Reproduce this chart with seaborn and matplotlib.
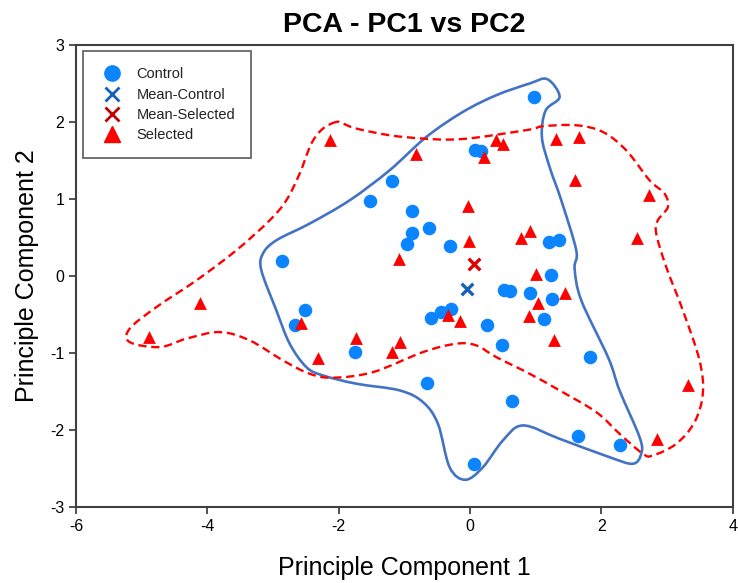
import numpy as np
import pandas as pd
import matplotlib
matplotlib.use("Agg")
import matplotlib.pyplot as plt
from matplotlib.path import Path
from matplotlib.patches import PathPatch
from matplotlib.lines import Line2D
import seaborn as sns

# PCA scores: control group
control_pc1 = [0.98, 0.08, 0.16, -1.19, -1.53, -0.88, -0.63, -0.88, -0.96, -0.31,
               1.20, 1.35, -2.86, 1.23, 0.52, 0.60, 0.91, 1.24, -2.51, -2.67,
               -0.59, -0.44, -0.29, 0.25, 1.12, 0.48, -1.75, 1.83, -0.66, 0.64,
               0.06, 1.65, 2.28]
control_pc2 = [2.32, 1.64, 1.62, 1.24, 0.97, 0.85, 0.62, 0.56, 0.41, 0.39,
               0.44, 0.47, 0.19, 0.02, -0.18, -0.19, -0.22, -0.30, -0.44, -0.64,
               -0.54, -0.47, -0.43, -0.63, -0.56, -0.90, -0.99, -1.05, -1.39, -1.62,
               -2.44, -2.07, -2.19]

# PCA scores: selected group
selected_pc1 = [-2.13, -0.82, 0.21, 0.39, 0.50, 1.31, 1.66, 1.59, 2.73, -0.03,
                -0.02, 0.91, 0.77, 2.54, -1.09, 1.01, 1.44, 1.04, -4.11, -0.34,
                -0.16, 0.89, -2.58, -4.89, -1.74, -1.07, 1.28, -1.19, -2.32, 3.32,
                2.85]
selected_pc2 = [1.77, 1.58, 1.55, 1.76, 1.71, 1.78, 1.80, 1.25, 1.05, 0.91,
                0.45, 0.59, 0.49, 0.49, 0.22, 0.03, -0.22, -0.35, -0.35, -0.51,
                -0.58, -0.52, -0.61, -0.79, -0.80, -0.86, -0.83, -0.99, -1.07, -1.41,
                -2.12]

# group means
mean_control = (-0.04, -0.17)
mean_selected = (0.06, 0.16)

# group envelopes (closed outlines in PC space)
control_env_pc1 = [1.175, 1.362, 1.149, 1.093, 1.210, 1.388, 1.616, 1.591, 1.693, 2.108,
                   2.275, 2.580, 2.606, 2.478, 2.123, 1.362, 0.804, 0.499, 0.195, -0.073,
                   -0.312, -0.490, -0.718, -1.073, -1.732, -2.240, -2.493, -2.747, -2.950,
                   -3.178, -3.154, -2.950, -2.443, -1.834, -1.225, -0.667, -0.110, 0.399,
                   0.906]
control_env_pc2 = [2.555, 2.325, 2.147, 1.805, 1.416, 0.983, 0.334, 0.096, -0.316, -1.069,
                   -1.484, -2.091, -2.303, -2.436, -2.351, -2.112, -1.939, -2.134, -2.481,
                   -2.644, -2.481, -1.917, -1.636, -1.484, -1.397, -1.290, -1.182, -0.878,
                   -0.445, 0.074, 0.291, 0.464, 0.681, 0.983, 1.373, 1.805, 2.130, 2.347,
                   2.499]

selected_env_pc1 = [-2.037, -2.240, -2.417, -2.595, -2.798, -3.052, -3.559, -4.167, -4.776,
                    -5.183, -5.183, -4.726, -4.320, -3.813, -3.356, -2.849, -2.443, -2.088,
                    -1.479, -0.718, -0.210, 0.094, 0.399, 0.906, 1.362, 1.921, 2.275, 2.630,
                    2.782, 3.139, 3.417, 3.543, 3.493, 3.239, 2.986, 2.834, 2.858, 3.011,
                    2.960, 2.732, 2.377, 2.021, 1.616, 1.108, 0.906, 0.094, -0.312, -0.718,
                    -1.225, -1.732, -1.936]
selected_env_pc2 = [2.000, 1.914, 1.719, 1.330, 0.983, 0.723, 0.334, -0.056, -0.403,
                    -0.683, -0.857, -0.922, -0.813, -0.727, -0.835, -1.095, -1.268, -1.319,
                    -1.247, -0.987, -0.878, -0.900, -1.052, -1.268, -1.484, -1.766, -2.047,
                    -2.306, -2.329, -2.177, -1.896, -1.527, -1.095, -0.445, 0.117, 0.551,
                    0.723, 0.896, 1.070, 1.243, 1.632, 1.870, 1.957, 1.944, 1.901, 1.797,
                    1.771, 1.784, 1.827, 1.914, 1.979]


def smooth_closed_path(xs, ys):
    """Closed Catmull-Rom curve through the given points, as cubic Bezier path."""
    p = np.column_stack([xs, ys]).astype(float)
    n = len(p)
    verts = [p[0]]
    codes = [Path.MOVETO]
    for i in range(n):
        p0, p1, p2, p3 = p[i - 1], p[i], p[(i + 1) % n], p[(i + 2) % n]
        c1 = p1 + (p2 - p0) / 6.0
        c2 = p2 - (p3 - p1) / 6.0
        verts += [c1, c2, p2]
        codes += [Path.CURVE4] * 3
    return Path(verts, codes)


sns.set_theme(style="white")
plt.rcParams["font.family"] = ["Liberation Sans", "DejaVu Sans"]
plt.rcParams["axes.unicode_minus"] = False
plt.rcParams["text.color"] = "black"
plt.rcParams["axes.labelcolor"] = "black"

fig = plt.figure(figsize=(7.38, 5.83), dpi=100)
ax = fig.add_axes([0.103, 0.130, 0.890, 0.793])

blue_pt = "#0A84FF"
red_pt = "#FF0000"

ax.add_patch(PathPatch(smooth_closed_path(control_env_pc1, control_env_pc2),
                       facecolor="none", edgecolor="#4472C4", lw=1.9, zorder=2))
ax.add_patch(PathPatch(smooth_closed_path(selected_env_pc1, selected_env_pc2),
                       facecolor="none", edgecolor="#FF0000", lw=1.7,
                       linestyle=(0, (3.5, 2.0)), zorder=2))

ctrl = pd.DataFrame({"PC1": control_pc1, "PC2": control_pc2})
sel = pd.DataFrame({"PC1": selected_pc1, "PC2": selected_pc2})

sns.scatterplot(data=ctrl, x="PC1", y="PC2", ax=ax, color=blue_pt, marker="o",
                s=95, linewidth=0, zorder=3, legend=False)
sns.scatterplot(data=sel, x="PC1", y="PC2", ax=ax, color=red_pt, marker="^",
                s=85, linewidth=0, zorder=3, legend=False)
ax.scatter([mean_control[0]], [mean_control[1]], marker="x", s=70, color="#1560BD",
           linewidths=2.4, zorder=4)
ax.scatter([mean_selected[0]], [mean_selected[1]], marker="x", s=70, color="#E00000",
           linewidths=2.4, zorder=4)

ax.set_xlim(-6, 4)
ax.set_ylim(-3, 3)
ax.set_xticks([-6, -4, -2, 0, 2, 4])
ax.set_yticks([-3, -2, -1, 0, 1, 2, 3])
ax.tick_params(axis="both", direction="out", length=5, width=1.2, colors="#333333",
               labelsize=11.5, labelcolor="black", bottom=True, left=True)
for sp in ax.spines.values():
    sp.set_color("#404040")
    sp.set_linewidth(1.5)

ax.set_title("PCA - PC1 vs PC2", fontsize=20.5, fontweight="bold", pad=9,
             color="black")
ax.set_xlabel("Principle Component 1", fontsize=18, labelpad=16)
ax.set_ylabel("Principle Component 2", fontsize=18, labelpad=8)

handles = [
    Line2D([], [], marker="o", linestyle="none", color=blue_pt, markersize=11),
    Line2D([], [], marker="x", linestyle="none", color="#1560BD", markersize=10,
           markeredgewidth=2),
    Line2D([], [], marker="x", linestyle="none", color="#C00000", markersize=10,
           markeredgewidth=2),
    Line2D([], [], marker="^", linestyle="none", color=red_pt, markersize=11),
]
labels = ["Control", "Mean-Control", "Mean-Selected", "Selected"]
leg = ax.legend(handles, labels, loc="upper left", fontsize=10.5, frameon=True,
                fancybox=False, edgecolor="#404040", borderpad=1.1,
                labelspacing=0.42, handletextpad=0.8, borderaxespad=0.45,
                handlelength=1.8)
leg.get_frame().set_linewidth(1.3)
for t in leg.get_texts():
    t.set_color("#222222")

fig.savefig("out.png", dpi=100, facecolor="white")
